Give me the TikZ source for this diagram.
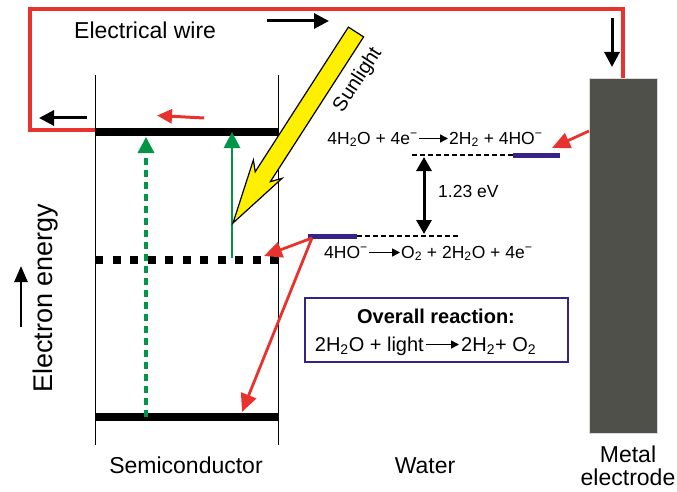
\documentclass[tikz,border=0pt]{standalone}
\usepackage{fontspec}
\setmainfont{Liberation Sans}
\usetikzlibrary{arrows.meta,calc}
\definecolor{wirered}{RGB}{232,50,45}
\definecolor{sgreen}{RGB}{0,150,70}
\definecolor{bandpurple}{RGB}{55,35,135}
\definecolor{electrodegray}{RGB}{78,80,73}
\definecolor{sunyellow}{RGB}{255,240,0}
\begin{document}
\begin{tikzpicture}[x=1pt,y=-1pt,
  wire/.style={draw=wirered,line width=3.2pt,line join=miter},
  wirearrow/.style={line width=3pt,-{Triangle[length=15pt,width=15pt]}},
  redarrow/.style={draw=wirered,line width=2.8pt,-{Triangle[length=18pt,width=16pt]}},
  band/.style={line width=8pt},
  dotband/.style={line width=8pt,dash pattern=on 8pt off 9.5pt},
  greenarrow/.style={draw=sgreen,line width=2.8pt,-{Triangle[length=16pt,width=16pt]}},
  level/.style={draw=bandpurple,line width=5pt},
  dashlevel/.style={line width=2.5pt,dash pattern=on 5pt off 3pt},
  txtarrow/.style={line width=1.5pt,-{Triangle[length=8pt,width=8pt]}},
  rx/.style={inner sep=0pt,font=\fontsize{17.5}{20}\selectfont},
  ox/.style={inner sep=0pt,font=\fontsize{20}{24}\selectfont},
  lbl/.style={inner sep=0pt,font=\fontsize{23}{26}\selectfont}
]
\useasboundingbox (0,0) rectangle (677,492);

% electrode
\node[fill=electrodegray,draw=black!15,line width=0.6pt,minimum width=68pt,minimum height=355pt,inner sep=0pt,anchor=north west] (electrode) at (589,78) {};

% semiconductor
\coordinate (sTL) at (95,75); \coordinate (sBL) at (95,445);
\coordinate (sTR) at (278,75); \coordinate (sBR) at (278,445);
\draw[line width=0.8pt] (sTL) -- (sBL);
\draw[line width=0.8pt] (sTR) -- (sBR);
\coordinate (cbL) at (95,132); \coordinate (cbR) at (278,132);
\coordinate (fbL) at (95,260); \coordinate (fbR) at (278,260);
\coordinate (vbL) at (95,417); \coordinate (vbR) at (278,417);
\draw[band] (cbL) -- (cbR);
\draw[dotband] (fbL) -- (fbR);
\draw[band] (vbL) -- (vbR);

% wire
\coordinate (wireL) at (95,130);
\coordinate (wireR) at (623,9);
\draw[wire] (wireL) -- (30,130) -- (30,9) -- (wireR) -- (wireR |- electrode.north);
\node[lbl,anchor=base west] (wirelbl) at (74,39) {Electrical wire};
\coordinate (a1s) at (267,21); \coordinate (a1e) at (329,21);
\draw[wirearrow] (a1s) -- (a1e);
\coordinate (a2s) at (612,18); \coordinate (a2e) at (612,67);
\draw[wirearrow] (a2s) -- (a2e);
\coordinate (a3s) at (87,118); \coordinate (a3e) at (39,118);
\draw[wirearrow] (a3s) -- (a3e);
\coordinate (a4s) at (204,118); \coordinate (a4e) at (157,115.5);
\draw[draw=wirered,line width=3pt,-{Triangle[length=15pt,width=14pt]},wirered] (a4s) -- (a4e);

% green transitions
\coordinate (g1s) at (146,417); \coordinate (g1e) at (146,137);
\draw[greenarrow,line width=3.3pt,dash pattern=on 7pt off 5pt] (g1s) -- (g1e);
\coordinate (g2s) at (232,258); \coordinate (g2e) at (232,132);
\draw[greenarrow] (g2s) -- (g2e);

% sunlight arrow
\draw[fill=sunyellow,line width=1.2pt,line join=miter]
  (233,223) -- (282,178.4) -- (270.4,181.6) -- (363.6,36.9) -- (348.4,27.1)
  -- (255.2,171.8) -- (253.4,160) -- cycle;
\node[inner sep=0pt,rotate=57,font=\fontsize{20}{22}\selectfont] (sunlbl) at (358,80) {Sunlight};

% water levels
\coordinate (hL) at (412,155); \coordinate (hM) at (513,155); \coordinate (hR) at (560,155);
\draw[dashlevel] (hL) -- (hM);
\draw[level] (hM) -- (hR);
\coordinate (oL) at (308,236); \coordinate (oM) at (357,236); \coordinate (oR) at (460,236);
\draw[level] (oL) -- (oM);
\draw[dashlevel] (oM) -- (oR);
\coordinate (dTop) at (424,157); \coordinate (dBot) at (424,234);
\draw[line width=3pt,{Triangle[length=14pt,width=15pt]}-{Triangle[length=14pt,width=15pt]}] (dTop) -- (dBot);
\node[rx,anchor=west] (ev) at (438,191) {1.23 eV};

% reactions
\node[rx,anchor=base east] (r1a) at (418,144) {4H\textsubscript{2}O + 4e\textsuperscript{−}};
\node[rx,anchor=base west] (r1b) at (449,144) {2H\textsubscript{2} + 4HO\textsuperscript{−}};
\draw[txtarrow] ($(r1a.base east)+(1,-5.5)$) -- ($(r1b.base west)+(-1,-5.5)$);
\node[rx,anchor=base east] (r2a) at (368,258) {4HO\textsuperscript{−}};
\node[rx,anchor=base west] (r2b) at (401,258) {O\textsubscript{2} + 2H\textsubscript{2}O + 4e\textsuperscript{−}};
\draw[txtarrow] ($(r2a.base east)+(1,-5.5)$) -- ($(r2b.base west)+(-1,-5.5)$);

% red electron arrows
\coordinate (eIn) at (electrode.west |- 0,131);
\coordinate (hTip) at (552,148);
\draw[redarrow] (eIn) -- (hTip);
\coordinate (oStart) at (312,238);
\coordinate (fTip) at (264,256);
\coordinate (vTip) at (242,412);
\draw[redarrow] (oStart) -- (fTip);
\draw[redarrow] (oStart) -- (vTip);

% overall reaction box
\node[draw=bandpurple,line width=2pt,minimum width=263pt,minimum height=64pt,inner sep=0pt] (box) at (436.5,330) {};
\node[ox,anchor=base,font=\fontsize{20}{24}\selectfont\bfseries] (ovt) at (436,323) {Overall reaction:};
\node[ox,anchor=base east] (o1) at (424,351) {2H\textsubscript{2}O + light};
\node[ox,anchor=base west] (o2) at (461,351) {2H\textsubscript{2}+ O\textsubscript{2}};
\draw[txtarrow] ($(o1.base east)+(2,-6.5)$) -- ($(o2.base west)+(-2,-6.5)$);

% labels
\node[inner sep=0pt,rotate=90,font=\fontsize{27}{30}\selectfont] (eelbl) at (46,298) {Electron energy};
\coordinate (eeS) at (21,327); \coordinate (eeE) at (21,266);
\draw[line width=2.5pt,-{Triangle[length=16pt,width=13pt]}] (eeS) -- (eeE);
\node[lbl,anchor=base] (semi) at (186,473) {Semiconductor};
\node[lbl,anchor=base] (water) at (425,473) {Water};
\node[lbl,align=center,anchor=center] (metal) at (628,466) {Metal\\[-3pt]electrode};
\end{tikzpicture}
\end{document}
